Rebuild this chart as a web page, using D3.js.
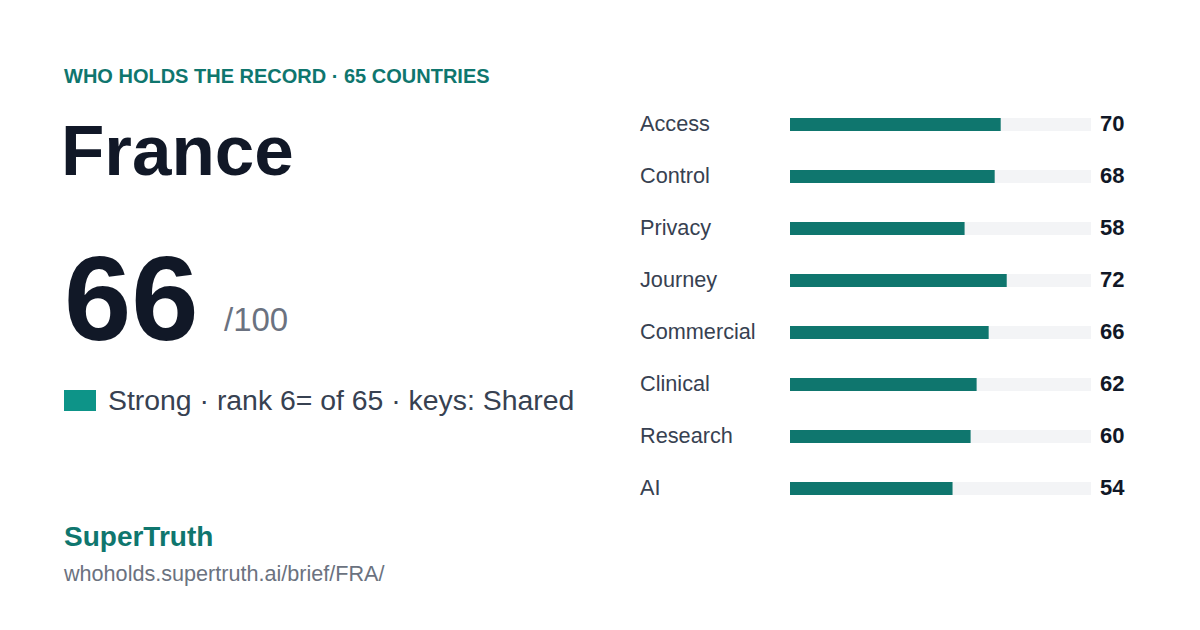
<!DOCTYPE html>
<html>
<head>
<meta charset="utf-8">
<script src="https://cdn.jsdelivr.net/npm/d3@7"></script>
<style>
  html, body { margin: 0; padding: 0; background: #fff; }
  svg { display: block; font-family: "Liberation Sans", Arial, sans-serif; }
</style>
</head>
<body>
<div id="chart"></div>
<script>
// pillar scores for France
var pillars = ['Access', 'Control', 'Privacy', 'Journey', 'Commercial', 'Clinical', 'Research', 'AI'];
var scores = [70, 68, 58, 72, 66, 62, 60, 54];
var overall = [66];
var maxScore = 100;

var width = 1200, height = 630;
var teal = '#0f766e';

var svg = d3.select('#chart').append('svg')
    .attr('width', width)
    .attr('height', height);

svg.append('rect').attr('width', width).attr('height', height).attr('fill', '#fff');

// left side text block
svg.append('text')
    .attr('x', 64).attr('y', 82.5)
    .attr('font-size', 20).attr('font-weight', 700)
    .attr('fill', teal)
    .text('WHO HOLDS THE RECORD · 65 COUNTRIES');

svg.append('text')
    .attr('x', 61).attr('y', 175)
    .attr('font-size', 71).attr('font-weight', 700)
    .attr('fill', '#111827')
    .text('France');

svg.append('text')
    .attr('x', 64).attr('y', 340)
    .attr('font-size', 121).attr('font-weight', 700)
    .attr('fill', '#111827')
    .text(overall[0]);

svg.append('text')
    .attr('x', 224).attr('y', 331)
    .attr('font-size', 33)
    .attr('fill', '#6b7280')
    .text('/' + maxScore);

svg.append('rect')
    .attr('x', 64).attr('y', 390)
    .attr('width', 32).attr('height', 21)
    .attr('fill', '#0d9488');

svg.append('text')
    .attr('x', 108).attr('y', 410)
    .attr('font-size', 28.4)
    .attr('fill', '#374151')
    .text('Strong · rank 6= of 65 · keys: Shared');

svg.append('text')
    .attr('x', 64).attr('y', 546)
    .attr('font-size', 28).attr('font-weight', 700)
    .attr('fill', teal)
    .text('SuperTruth');

svg.append('text')
    .attr('x', 64).attr('y', 581)
    .attr('font-size', 21.6)
    .attr('fill', '#6b7280')
    .text('whoholds.supertruth.ai/brief/FRA/');

// bars on the right
var x = d3.scaleLinear().domain([0, maxScore]).range([790, 1091]);
var y = d3.scalePoint().domain(pillars).range([124.5, 488.5]);
var barH = 13;

var rows = svg.selectAll('.row')
    .data(pillars.map(function(p, i) { return { name: p, value: scores[i] }; }))
    .enter().append('g')
    .attr('class', 'row');

rows.append('rect')
    .attr('x', x(0))
    .attr('y', function(d) { return y(d.name) - barH / 2; })
    .attr('width', x(maxScore) - x(0))
    .attr('height', barH)
    .attr('fill', '#f3f4f6');

rows.append('rect')
    .attr('x', x(0))
    .attr('y', function(d) { return y(d.name) - barH / 2; })
    .attr('width', function(d) { return x(d.value) - x(0); })
    .attr('height', barH)
    .attr('fill', teal);

rows.append('text')
    .attr('x', 640)
    .attr('y', function(d) { return y(d.name) + 6; })
    .attr('font-size', 21.7)
    .attr('fill', '#374151')
    .text(function(d) { return d.name; });

rows.append('text')
    .attr('x', 1100)
    .attr('y', function(d) { return y(d.name) + 6; })
    .attr('font-size', 22).attr('font-weight', 700)
    .attr('fill', '#111827')
    .text(function(d) { return d.value; });
</script>
</body>
</html>
